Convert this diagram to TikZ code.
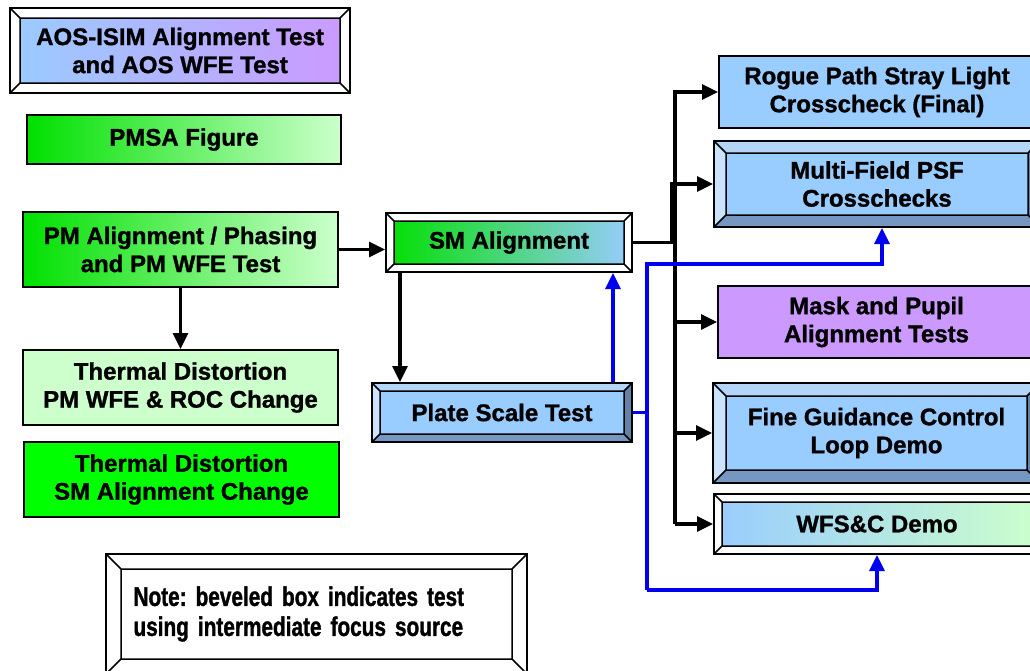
\documentclass[tikz,border=0pt]{standalone}
\usepackage{fontspec}
\setmainfont{Liberation Sans}[BoldFeatures={FakeBold=1.2}]
\newfontfamily\notefamily{Liberation Sans}[FakeStretch=0.77, BoldFeatures={FakeBold=1.2}]
\usepackage{tikz}
\usetikzlibrary{arrows.meta}
\usetikzlibrary{calc}
\tikzset{>={Triangle[length=16pt,width=15pt]}}
\definecolor{skyblue}{HTML}{99CCFF}
\definecolor{lilac}{HTML}{CC99FF}
\definecolor{mint}{HTML}{CCFFCC}
\definecolor{leaf}{HTML}{00E000}
\definecolor{lime}{HTML}{00FF00}
\definecolor{bevtop}{HTML}{B3D5F7}
\definecolor{bevleft}{HTML}{CCE3FD}
\definecolor{bevbot}{HTML}{7598C2}
\definecolor{bevright}{HTML}{6283A8}
\definecolor{linkblue}{HTML}{0000F0}
\newcommand\boxfont{\fontsize{24}{28}\selectfont\bfseries}
\newcommand\bevelfaces[5]{%
  \coordinate (bo1) at (path picture bounding box.north west);
  \coordinate (bo2) at (path picture bounding box.north east);
  \coordinate (bo3) at (path picture bounding box.south east);
  \coordinate (bo4) at (path picture bounding box.south west);
  \coordinate (bi1) at ([shift={(#1pt,-#1pt)}]bo1);
  \coordinate (bi2) at ([shift={(-#1pt,-#1pt)}]bo2);
  \coordinate (bi3) at ([shift={(-#1pt,#1pt)}]bo3);
  \coordinate (bi4) at ([shift={(#1pt,#1pt)}]bo4);
  \fill[#2] (bo1) -- (bo2) -- (bi2) -- (bi1) -- cycle;
  \fill[#3] (bo1) -- (bi1) -- (bi4) -- (bo4) -- cycle;
  \fill[#4] (bo4) -- (bi4) -- (bi3) -- (bo3) -- cycle;
  \fill[#5] (bo2) -- (bo3) -- (bi3) -- (bi2) -- cycle;
  \draw[line width=1.5pt] (bi1) rectangle (bi3) (bo1) -- (bi1) (bo2) -- (bi2) (bo3) -- (bi3) (bo4) -- (bi4);
}
\tikzset{
  box/.style={draw, line width=2pt, inner sep=0pt, align=center, font=\boxfont},
  bevelwhite/.style={box, path picture={\bevelfaces{#1}{white}{white}{white}{white}}},
  bevelblue/.style={box, fill=skyblue, path picture={\bevelfaces{#1}{bevtop}{bevleft}{bevbot}{bevright}}},
  flow/.style={line width=3.2pt, ->},
  feed/.style={flow, draw=linkblue},
}

\begin{document}
\begin{tikzpicture}[x=1pt, y=-1pt]
  \clip (0,0) rectangle (1030,670);
  \fill[white] (0,0) rectangle (1030,670);
  \node[bevelwhite=10, left color=skyblue, right color=lilac, minimum width=340pt, minimum height=85pt] (aos) at (180,50.5) {AOS-ISIM Alignment Test\\and AOS WFE Test};
  \node[box, left color=leaf, middle color=mint!75!leaf, right color=mint, minimum width=314pt, minimum height=49pt] (pmsa) at (184,139.5) {PMSA Figure};
  \node[box, left color=leaf, middle color=mint!75!leaf, right color=mint, minimum width=315pt, minimum height=75pt] (pmalign) at (180.5,249.5) {PM Alignment / Phasing\\and PM WFE Test};
  \node[box, fill=mint, minimum width=315pt, minimum height=75pt] (thermpm) at (180.5,387.5) {Thermal Distortion\\PM WFE \& ROC Change};
  \node[box, fill=lime, minimum width=315pt, minimum height=75pt] (thermsm) at (181.5,479.5) {Thermal Distortion\\SM Alignment Change};
  \node[bevelwhite=15, minimum width=421pt, minimum height=120pt, text width=366pt, align=left, font=\notefamily\fontsize{27}{30}\selectfont\bfseries\frenchspacing] (note) at (316.5,614) {Note: beveled box indicates test\\using intermediate focus source};
  \node[bevelwhite=8, left color=leaf, middle color=skyblue!55!lime, right color=skyblue, minimum width=246pt, minimum height=59pt] (smalign) at (509,242.5) {SM Alignment};
  \node[bevelblue=8, minimum width=260pt, minimum height=59pt] (plate) at (502,412.5) {Plate Scale Test};
  \node[box, fill=skyblue, minimum width=316pt, minimum height=72pt] (rogue) at (877,92) {Rogue Path Stray Light\\Crosscheck (Final)};
  \node[bevelblue=12, minimum width=326pt, minimum height=86pt] (multi) at (877,184) {Multi-Field PSF\\Crosschecks};
  \node[box, fill=lilac, minimum width=317pt, minimum height=72pt] (mask) at (876.5,322) {Mask and Pupil\\Alignment Tests};
  \node[bevelblue=13, minimum width=327pt, minimum height=100pt] (fine) at (876.5,433) {Fine Guidance Control\\Loop Demo};
  \node[bevelwhite=8, left color=skyblue, right color=mint, minimum width=326pt, minimum height=60pt] (wfsc) at (877,524) {WFS\&C Demo};
  \coordinate (busbot) at (675,524);
  \coordinate (bluebot) at (647,590);
  \coordinate (bluetop) at (647,264);
  \draw[flow] (pmalign.east) -- (pmalign.east -| smalign.west);
  \draw[flow] (pmalign.south) -- (thermpm.north);
  \draw[flow] ([xshift=15pt]smalign.south west) -- ([xshift=15pt]smalign.south west |- plate.north);
  \draw[flow] (smalign.east) -| ([xshift=-3pt]busbot |- multi.west) -- (multi.west);
  \draw[flow] (busbot) |- (rogue.west);
  \draw[flow] (busbot |- mask.west) -- (mask.west);
  \draw[flow] (busbot |- fine.west) -- (fine.west);
  \draw[flow] (busbot) -- (wfsc.west);
  \draw[feed] ([xshift=-20pt]plate.north east) -- ([xshift=-20pt]plate.north east |- smalign.south);
  \draw[line width=3.2pt, linkblue] (plate.east) -- (plate.east -| bluebot);
  \draw[feed] (bluebot) |- ([xshift=5pt]multi.south |- bluetop) -- ([xshift=5pt]multi.south);
  \draw[feed] (bluebot) -| (wfsc.south);
\end{tikzpicture}
\end{document}
